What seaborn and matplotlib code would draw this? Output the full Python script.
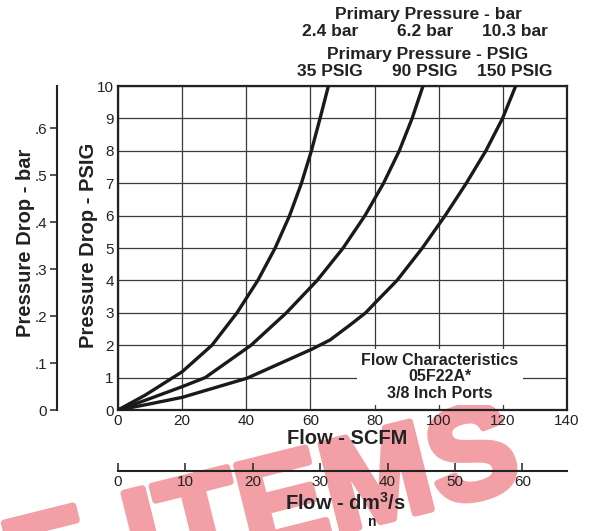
import seaborn as sns
import pandas as pd
import numpy as np
import matplotlib
matplotlib.use("Agg")
import matplotlib.pyplot as plt
import matplotlib.patheffects as pe

sns.set_style("white")
plt.rcParams['font.family'] = ['Liberation Sans', 'DejaVu Sans']
plt.rcParams['mathtext.fontset'] = 'custom'
plt.rcParams['mathtext.rm'] = 'Liberation Sans:bold'
plt.rcParams['mathtext.default'] = 'rm'

# flow (SCFM) vs pressure drop (PSIG)
flow_35 = [0, 8.5, 20, 29.3, 37.1, 43.6, 49.0, 53.5, 57.2, 60.3, 63.0, 65.6]
drop_35 = [0, 0.46, 1.18, 2, 3, 4, 5, 6, 7, 8, 9, 10]
flow_90 = [0, 8.5, 20, 27.2, 41.5, 52.5, 62.1, 70.2, 77.0, 82.8, 87.7, 91.7, 95.1]
drop_90 = [0, 0.3, 0.72, 1, 2, 3, 4, 5, 6, 7, 8, 9, 10]
flow_150 = [0, 8.5, 20, 40.2, 60.5, 66.1, 72.3, 77.2, 80.3, 87.0, 94.9, 102.0, 108.6, 114.7, 119.9, 124.0]
drop_150 = [0, 0.16, 0.39, 0.98, 1.88, 2.16, 2.62, 3, 3.32, 4, 5, 6, 7, 8, 9, 10]

psig_labels = ['35 PSIG', '90 PSIG', '150 PSIG']
bar_labels = ['2.4 bar', '6.2 bar', '10.3 bar']

x_ticks = [0, 20, 40, 60, 80, 100, 120, 140]
y_ticks = [0, 1, 2, 3, 4, 5, 6, 7, 8, 9, 10]
bar_ticks = [0, 0.1, 0.2, 0.3, 0.4, 0.5, 0.6]
bar_tick_labels = ['0', '.1', '.2', '.3', '.4', '.5', '.6']
dm_ticks = [0, 10, 20, 30, 40, 50, 60]

PSI_PER_BAR = 14.5
DM3S_PER_SCFM = 0.476

df = pd.concat([
    pd.DataFrame({'flow': flow_35, 'drop': drop_35, 'curve': psig_labels[0]}),
    pd.DataFrame({'flow': flow_90, 'drop': drop_90, 'curve': psig_labels[1]}),
    pd.DataFrame({'flow': flow_150, 'drop': drop_150, 'curve': psig_labels[2]}),
])

fig = plt.figure(figsize=(5.89, 5.31), dpi=100)
ax = fig.add_axes([118/589, 1-410/531, 449/589, 324/531])
ax.patch.set_visible(False)

sns.lineplot(data=df, x='flow', y='drop', units='curve', estimator=None,
             sort=False, color='#1a1a1a', lw=2.4, ax=ax, zorder=4)
for l in ax.lines:
    l.set_solid_joinstyle('round')

ax.set_xlim(0, 140)
ax.set_ylim(0, 10)
ax.set_xticks(x_ticks)
ax.set_yticks(y_ticks)
ax.grid(True, color='#3a3a3a', lw=0.9)
for s in ax.spines.values():
    s.set_linewidth(1.6)
    s.set_color('#222222')
ax.tick_params(length=0, labelsize=11, pad=3, colors='#222222')
ax.set_xlabel('')
ax.set_ylabel('')

ax.text(100.4, 1.02, 'Flow Characteristics\n05F22A*\n3/8 Inch Ports',
        ha='center', va='center', fontsize=11.5, fontweight='bold',
        color='#222222', linespacing=1.1, zorder=5,
        bbox=dict(facecolor='white', edgecolor='none', pad=3))

# pressure drop in bar, left of the PSIG axis
sec_y = ax.secondary_yaxis(-61/449, functions=(lambda p: p / PSI_PER_BAR,
                                                lambda b: b * PSI_PER_BAR))
sec_y.set_yticks(bar_ticks)
sec_y.set_yticklabels(bar_tick_labels)
sec_y.spines['left'].set_linewidth(1.5)
sec_y.spines['left'].set_color('#222222')
sec_y.tick_params(length=5, width=1.1, labelsize=11, pad=2, colors='#222222')

# flow in dm3/s under the SCFM axis
sec_x = ax.secondary_xaxis(-61/324, functions=(lambda s: s * DM3S_PER_SCFM,
                                                lambda d: d / DM3S_PER_SCFM))
sec_x.set_xticks(dm_ticks)
sec_x.spines['bottom'].set_linewidth(1.5)
sec_x.spines['bottom'].set_color('#222222')
sec_x.tick_params(direction='in', length=6, width=1.1, labelsize=11, pad=3,
                  colors='#222222')

lab = dict(fontsize=14.5, fontweight='bold', color='#222222', ha='center', va='center')
fig.text(88/589, 1-245/531, 'Pressure Drop - PSIG', rotation=90, **lab)
fig.text(26/589, 1-243/531, 'Pressure Drop - bar', rotation=90, **lab)
fig.text(347/589, 1-438/531, 'Flow - SCFM', **lab)
fig.text(345/589, 1-503/531, 'Flow - dm$^{3}$/s', **lab)
fig.text(372/589, 1-522/531, 'n', fontsize=10, fontweight='bold', color='#222222',
         ha='center', va='center')

top = dict(fontsize=12.5, fontweight='bold', color='#222222', ha='center', va='center')
fig.text(428/589, 1-15/531, 'Primary Pressure - bar', **top)
fig.text(428/589, 1-55/531, 'Primary Pressure - PSIG', **top)
for xp, b, p in zip([330, 425, 515], bar_labels, psig_labels):
    fig.text(xp/589, 1-32/531, b, **top)
    fig.text(xp/589, 1-72/531, p, **top)

# watermark, behind the chart
fig.text(524/589, 1-486/531, 'OBSOLETE ITEMS', rotation=14, rotation_mode='anchor',
         ha='right', va='baseline', fontsize=94, fontweight='bold',
         color='#f2a0a5', zorder=-1,
         path_effects=[pe.withStroke(linewidth=5, foreground='#f2a0a5')])

fig.savefig('out.png', dpi=100)
